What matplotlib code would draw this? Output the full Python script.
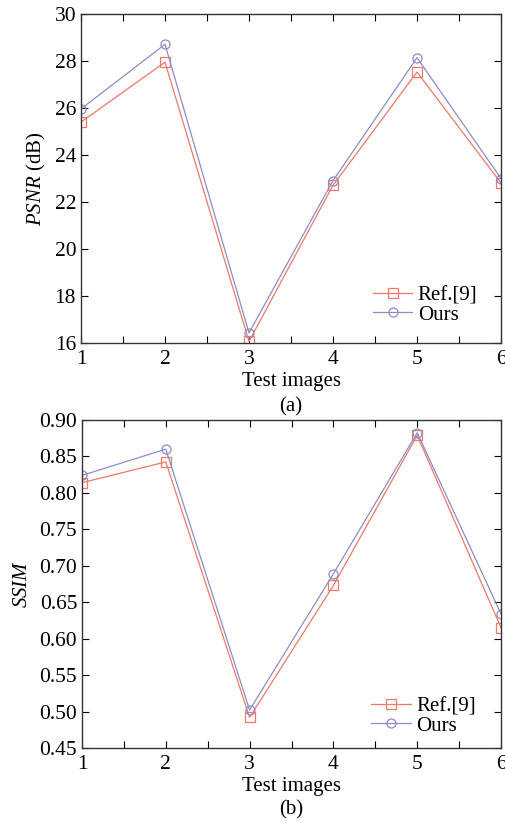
import numpy as np
import matplotlib.pyplot as plt
from matplotlib.ticker import MultipleLocator

# data
test_images = [1, 2, 3, 4, 5, 6]
psnr_ref9 = [25.40, 27.95, 16.07, 22.71, 27.53, 22.81]
psnr_ours = [25.96, 28.71, 16.43, 22.91, 28.14, 23.00]
ssim_ref9 = [0.814, 0.8425, 0.492, 0.673, 0.879, 0.615]
ssim_ours = [0.824, 0.860, 0.502, 0.689, 0.8825, 0.634]

red = '#f07868'
blue = '#8c8cc8'

plt.rcParams['font.family'] = ['Liberation Serif', 'DejaVu Serif']
plt.rcParams['mathtext.fontset'] = 'custom'
plt.rcParams['mathtext.it'] = 'Liberation Serif:italic'
plt.rcParams['mathtext.rm'] = 'Liberation Serif'

fig = plt.figure(figsize=(5.05, 8.23), dpi=100)
W, H = 505, 823
ax1 = fig.add_axes([81 / W, 1 - 343 / H, 420 / W, 329 / H])
ax2 = fig.add_axes([82 / W, 1 - 748 / H, 419 / W, 328 / H])


def style(ax, ylim, ystep, yfmt, leg_anchor):
    ax.set_xlim(1, 6)
    ax.set_ylim(*ylim)
    ax.xaxis.set_major_locator(MultipleLocator(1))
    ax.xaxis.set_minor_locator(MultipleLocator(0.5))
    ax.yaxis.set_major_locator(MultipleLocator(ystep))
    ax.yaxis.set_major_formatter(plt.FormatStrFormatter(yfmt))
    ax.tick_params(which='both', direction='in', top=True, right=True,
                   labelsize=15.5, width=0.8, length=5, pad=3.5)
    ax.tick_params(axis='x', which='both', pad=5)
    for s in ax.spines.values():
        s.set_linewidth(1.0)
        s.set_color('#333333')
    ax.set_xlabel('Test images', fontsize=15, labelpad=2)
    ax.legend(loc='upper left', frameon=False, fontsize=15,
              handlelength=1.9, handletextpad=0.25, labelspacing=0.0,
              borderpad=0, borderaxespad=0, bbox_to_anchor=leg_anchor)


ax1.plot(test_images, psnr_ref9, color=red, lw=0.9, marker='s', ms=6.5,
         mfc='none', mec=red, mew=0.9, label='Ref.[9]')
ax1.plot(test_images, psnr_ours, color=blue, lw=0.9, marker='o', ms=6.5,
         mfc='none', mec=blue, mew=0.9, label='Ours')
style(ax1, (16, 30), 2, '%d', (0.695, 0.175))
ax1.set_ylabel(r'$PSNR$ (dB)', fontsize=15, labelpad=5)

ax2.plot(test_images, ssim_ref9, color=red, lw=0.9, marker='s', ms=6.5,
         mfc='none', mec=red, mew=0.9, label='Ref.[9]')
ax2.plot(test_images, ssim_ours, color=blue, lw=0.9, marker='o', ms=6.5,
         mfc='none', mec=blue, mew=0.9, label='Ours')
style(ax2, (0.45, 0.90), 0.05, '%.2f', (0.69, 0.157))
ax2.set_ylabel(r'$SSIM$', fontsize=15, labelpad=5)

fig.text(291 / W, 1 - 407 / H, '(a)', ha='center', va='center', fontsize=15)
fig.text(291 / W, 1 - 810 / H, '(b)', ha='center', va='center', fontsize=15)

fig.savefig('out.png', dpi=100)
